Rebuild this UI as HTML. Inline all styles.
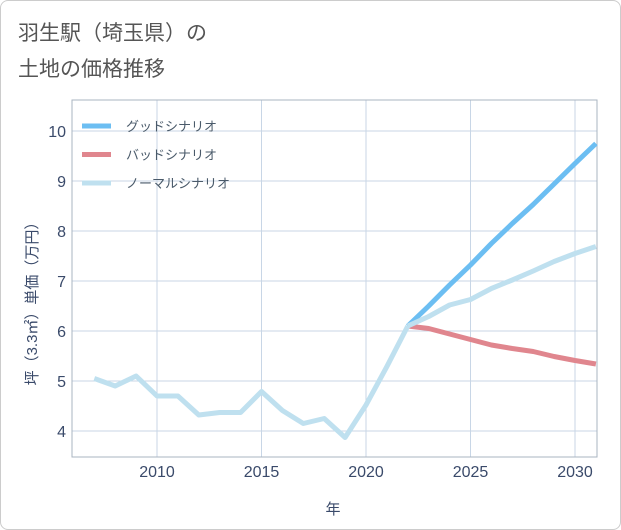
<!DOCTYPE html>
<html><head><meta charset="utf-8"><style>
body{margin:0;background:#fff;font-family:"Liberation Sans","Noto Sans CJK JP",sans-serif;}
#card{position:absolute;left:0;top:0;width:619px;height:528px;border:1px solid #ccc;border-radius:8px;}
</style></head><body>
<div id="card"></div>
<svg id="c" width="621" height="530" style="position:absolute;left:0;top:0">
<text x="18" y="40" font-size="21" fill="#555" font-family="Liberation Sans,Noto Sans CJK JP,sans-serif">羽生駅（埼玉県）の</text>
<text x="18" y="76" font-size="21" fill="#555" font-family="Liberation Sans,Noto Sans CJK JP,sans-serif">土地の価格推移</text>
<g id="grid"></g><g id="lines"></g><g id="legend"></g>
<text x="333" y="514" font-size="15" fill="#3a4a6a" text-anchor="middle" font-family="Liberation Sans,Noto Sans CJK JP,sans-serif">年</text>
<text transform="translate(37,300) rotate(-90)" font-size="15" fill="#3a4a6a" text-anchor="middle" font-family="Liberation Sans,Noto Sans CJK JP,sans-serif">坪（3.3㎡）単価（万円）</text>
</svg>
<script>
const years=[2007,2008,2009,2010,2011,2012,2013,2014,2015,2016,2017,2018,2019,2020,2021,2022];
const history=[5.05,4.9,5.1,4.7,4.7,4.32,4.37,4.37,4.79,4.41,4.15,4.25,3.87,4.52,5.29,6.1];
const futureYears=[2022,2023,2024,2025,2026,2027,2028,2029,2030,2031];
const good=[6.1,6.5,6.92,7.32,7.75,8.15,8.53,8.94,9.35,9.75];
const bad=[6.1,6.05,5.94,5.83,5.72,5.65,5.59,5.49,5.41,5.34];
const normal=[6.1,6.29,6.52,6.63,6.85,7.02,7.2,7.39,7.55,7.69];
const xTicks=[2010,2015,2020,2025,2030];
const yTicks=[4,5,6,7,8,9,10];
const L=72,R=597,T=100,B=457;
const xs=y=>157+(y-2010)*20.9;
const ys=v=>431-(v-4)*50;
const NS="http://www.w3.org/2000/svg";
function mk(t,a,p){const e=document.createElementNS(NS,t);for(const k in a)e.setAttribute(k,a[k]);p.appendChild(e);return e;}
const g=document.getElementById('grid');
for(const t of xTicks){const l=mk('line',{x1:xs(t),x2:xs(t),y1:T,y2:B,stroke:'#c8d6e6','stroke-width':1},g);


const tx=mk('text',{x:xs(t),y:B+20,'font-size':16,fill:'#3a4a6a','text-anchor':'middle'},g);tx.textContent=t;

}
for(const t of yTicks){const l=mk('line',{x1:L,x2:R,y1:ys(t),y2:ys(t),stroke:'#c8d6e6','stroke-width':1},g);


const tx=mk('text',{x:L-6,y:ys(t)+6,'font-size':16,fill:'#3a4a6a','text-anchor':'end'},g);tx.textContent=t;

}
const fr=mk('rect',{x:L,y:T,width:R-L,height:B-T,fill:'none',stroke:'#aab4c0','stroke-width':1},g);


const lg=document.getElementById('lines');
function line(xv,yv,c,n){const p=mk('polyline',{points:xv.map((x,i)=>xs(x)+','+ys(yv[i])).join(' '),fill:'none',stroke:c,'stroke-width':5,'stroke-linejoin':'round'},lg);

}
line(futureYears,bad,'#e0868e','bad-scenario-line');
line(futureYears,good,'#6cbef2','good-scenario-line');
line(futureYears,normal,'#bfe0ef','normal-scenario-line');
line(years,history,'#bfe0ef','history-line');
const leg=document.getElementById('legend');
[['グッドシナリオ','#6cbef2'],['バッドシナリオ','#e0868e'],['ノーマルシナリオ','#bfe0ef']].forEach((e,i)=>{
const y=126+i*28.5;
const r=mk('rect',{x:82,y:y-2.5,width:29,height:5,fill:e[1]},leg);


const t=mk('text',{x:126,y:y+5,'font-size':13,fill:'#4a5a6a','font-family':'Liberation Sans,Noto Sans CJK JP,sans-serif'},leg);t.textContent=e[0];

});
</script>
</body></html>
